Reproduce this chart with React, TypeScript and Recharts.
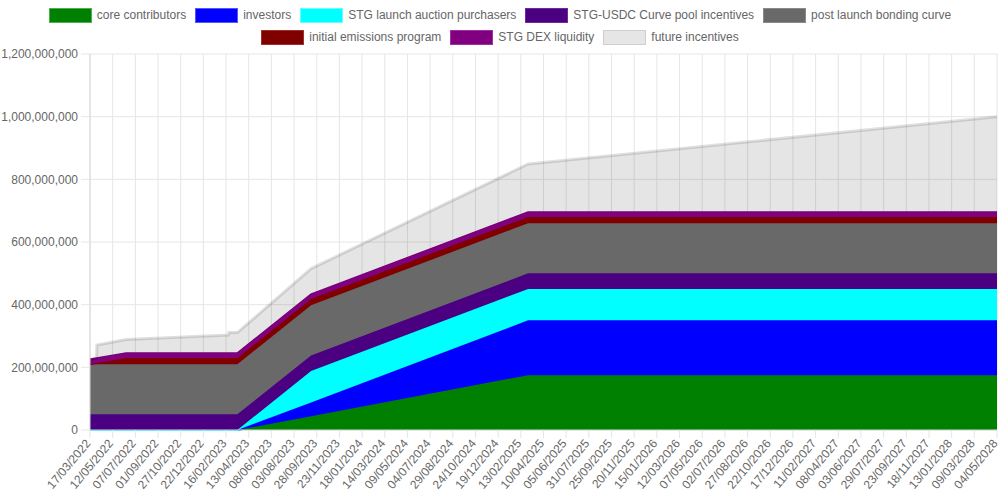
import React from 'react'
import { AreaChart, Area, XAxis, YAxis, CartesianGrid } from 'recharts'

// day offsets from 17/03/2022 where the schedule changes slope
const days = [0, 16, 17, 89, 342, 343, 364, 546, 1082, 2240]

// values in millions of STG
const coreContributors = [0, 0, 0, 0, 0, 0, 0, 44, 175, 175]
const investors = [0, 0, 0, 0, 0, 0, 0, 44, 175, 175]
const launchAuction = [0, 0, 0, 0, 0, 0, 0, 100, 100, 100]
const curvePool = [50, 50, 50, 50, 50, 50, 50, 50, 50, 50]
const bondingCurve = [160, 160, 160, 160, 160, 160, 160, 160, 160, 160]
const initialEmissions = [0, 4, 4, 20, 20, 20, 20, 20, 20, 20]
const dexLiquidity = [15, 15, 15, 15, 15, 15, 15, 15, 15, 15]
const futureIncentives = [0, 0, 42, 44, 58, 66, 66, 82, 154, 305]

const tickLabels = [
  '17/03/2022', '12/05/2022', '07/07/2022', '01/09/2022', '27/10/2022', '22/12/2022',
  '16/02/2023', '13/04/2023', '08/06/2023', '03/08/2023', '28/09/2023', '23/11/2023',
  '18/01/2024', '14/03/2024', '09/05/2024', '04/07/2024', '29/08/2024', '24/10/2024',
  '19/12/2024', '13/02/2025', '10/04/2025', '05/06/2025', '31/07/2025', '25/09/2025',
  '20/11/2025', '15/01/2026', '12/03/2026', '07/05/2026', '02/07/2026', '27/08/2026',
  '22/10/2026', '17/12/2026', '11/02/2027', '08/04/2027', '03/06/2027', '29/07/2027',
  '23/09/2027', '18/11/2027', '13/01/2028', '09/03/2028', '04/05/2028',
]
const tickDays = tickLabels.map((_, i) => i * 56)
const yTicks = [0, 200000000, 400000000, 600000000, 800000000, 1000000000, 1200000000]

const series = [
  { key: 'core', name: 'core contributors', values: coreContributors, color: '#008000', border: '#4caf50' },
  { key: 'investors', name: 'investors', values: investors, color: '#0000ff', border: '#5555ff' },
  { key: 'auction', name: 'STG launch auction purchasers', values: launchAuction, color: '#00ffff', border: '#66ffff' },
  { key: 'curve', name: 'STG-USDC Curve pool incentives', values: curvePool, color: '#4b0082', border: '#6a2aa0' },
  { key: 'bonding', name: 'post launch bonding curve', values: bondingCurve, color: '#696969', border: '#8a8a8a' },
  { key: 'emissions', name: 'initial emissions program', values: initialEmissions, color: '#800000', border: '#a03030' },
  { key: 'dex', name: 'STG DEX liquidity', values: dexLiquidity, color: '#800080', border: '#a030a0' },
  { key: 'future', name: 'future incentives', values: futureIncentives, color: '#e6e6e6', border: '#cfcfcf' },
]

const data = days.map((d, i) => {
  const row: Record<string, number> = { day: d }
  series.forEach(s => { row[s.key] = s.values[i] * 1000000 })
  return row
})

const FONT = '"Liberation Sans", Arial, Helvetica, sans-serif'
const legendRows = [series.slice(0, 5), series.slice(5)]

const XTick = ({ x, y, payload }: any) => {
  const label = tickLabels[Math.round(payload.value / 56)]
  return (
    <g transform={`translate(${x - 2},${y + 3})`}>
      <text transform="rotate(-50)" textAnchor="end" dy="0.35em" fontSize={12} fill="#666" fontFamily={FONT}>
        {label}
      </text>
    </g>
  )
}

export default function App() {
  return (
    <div style={{ position: 'absolute', left: 0, top: 0, width: 1000, height: 500, fontFamily: FONT }}>
      <div style={{ position: 'absolute', left: 0, top: 8, width: 1000 }}>
        {legendRows.map((row, r) => (
          <div key={r} style={{ display: 'flex', justifyContent: 'center', height: 22, alignItems: 'flex-start' }}>
            {row.map(s => (
              <div key={s.key} style={{ display: 'flex', alignItems: 'center', margin: '0 4.5px' }}>
                <div style={{ width: 41, height: 13, background: s.color, border: `1px solid ${s.border}` }} />
                <span style={{ fontSize: 12, color: '#666', marginLeft: 5, lineHeight: '15px' }}>{s.name}</span>
              </div>
            ))}
          </div>
        ))}
      </div>
      <div style={{ position: 'absolute', left: 0, top: 0 }}>
        <AreaChart width={1000} height={500} data={data} margin={{ top: 54, right: 3, bottom: 0, left: 0 }}>
          <CartesianGrid stroke="#e6e6e6" />
          <XAxis
            dataKey="day"
            type="number"
            domain={[0, 2240]}
            ticks={tickDays}
            interval={0}
            height={70}
            tickSize={8}
            tickMargin={0}
            tick={<XTick />}
            stroke="#d6d6d6"
            tickLine={{ stroke: '#e6e6e6' }}
          />
          <YAxis
            type="number"
            domain={[0, 1200000000]}
            ticks={yTicks}
            width={90}
            tickSize={9}
            tickMargin={3}
            tickFormatter={(v: number) => v.toLocaleString('en-US')}
            tick={{ fontSize: 12, fill: '#666', fontFamily: FONT }}
            stroke="#d6d6d6"
            tickLine={{ stroke: '#e6e6e6' }}
          />
          {series.map(s =>
            s.key === 'future' ? (
              <Area
                key={s.key}
                type="linear"
                dataKey={s.key}
                name={s.name}
                stackId="1"
                fill="#000"
                fillOpacity={0.1}
                stroke="#000"
                strokeOpacity={0.12}
                strokeWidth={3}
                dot={false}
                activeDot={false}
                isAnimationActive={false}
              />
            ) : (
              <Area
                key={s.key}
                type="linear"
                dataKey={s.key}
                name={s.name}
                stackId="1"
                fill={s.color}
                fillOpacity={1}
                stroke={s.color}
                strokeWidth={2}
                dot={false}
                activeDot={false}
                isAnimationActive={false}
              />
            )
          )}
        </AreaChart>
      </div>
    </div>
  )
}
